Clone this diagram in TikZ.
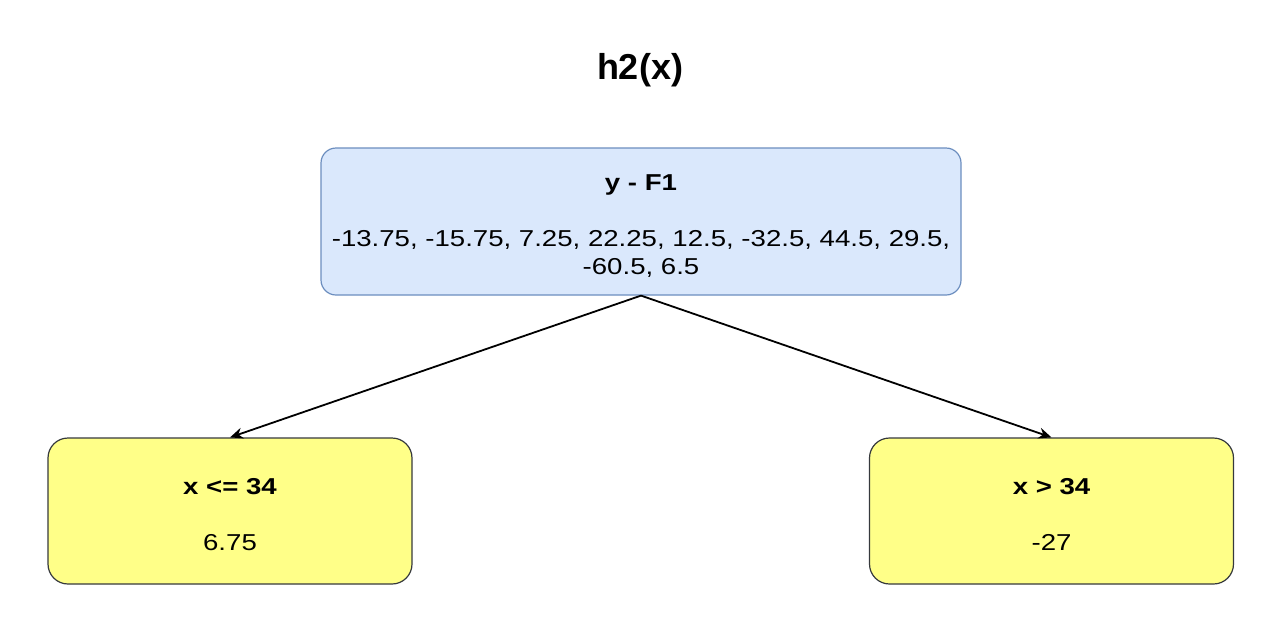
\documentclass[tikz,border=0pt]{standalone}
\usepackage{fontspec}
\setmainfont{Liberation Sans}[FakeStretch=1.2]
\newfontfamily\titlefont{Liberation Sans}
\usetikzlibrary{arrows.meta}
\definecolor{rootfill}{HTML}{DAE8FC}
\definecolor{rootline}{HTML}{6C8EBF}
\definecolor{leaffill}{HTML}{FFFF88}
\definecolor{leafline}{HTML}{36393D}
\begin{document}
\begin{tikzpicture}[x=0.5pt, y=-0.5pt,
  rootbox/.style={draw=rootline, fill=rootfill, line width=0.6pt, rounded corners=7.5pt,
    minimum width=320pt, minimum height=73.5pt, align=center, inner sep=0pt,
    font=\fontsize{11.5}{14}\selectfont},
  leafbox/.style={draw=leafline, fill=leaffill, line width=0.6pt, rounded corners=10pt,
    minimum width=182pt, minimum height=73pt, align=center, inner sep=0pt,
    font=\fontsize{11.5}{14}\selectfont},
  split/.style={draw=black, line width=0.9pt, -{Stealth[length=6.5pt, width=5.5pt]}}]

\useasboundingbox (0,0) rectangle (1280,638);

\node[font=\titlefont\fontsize{18}{20}\selectfont\bfseries] (title) at (640,70) {h2(x)};

\node[rootbox] (root) at (641,221.5)
  {\rule{0pt}{12.2pt}\textbf{y - F1}\\[14pt]
   -13.75, -15.75, 7.25, 22.25, 12.5, -32.5, 44.5, 29.5,\\
   -60.5, 6.5};

\node[leafbox] (left) at (230,511) {\rule{0pt}{11.2pt}\textbf{x <= 34}\\[14pt] 6.75};
\node[leafbox] (right) at (1051.5,511) {\rule{0pt}{11.2pt}\textbf{x > 34}\\[14pt] -27};

\draw[split] (root.south) -- (left.north);
\draw[split] (root.south) -- (right.north);

\end{tikzpicture}
\end{document}
